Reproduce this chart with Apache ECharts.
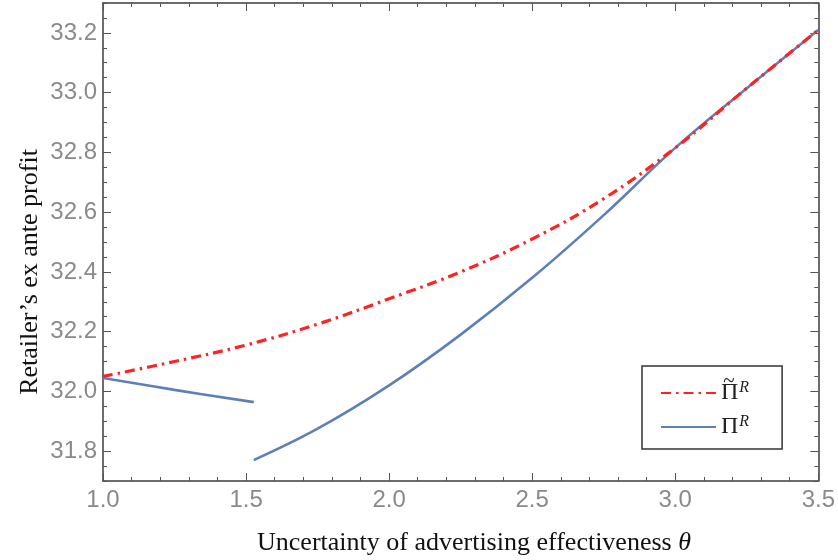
<!DOCTYPE html>
<html>
<head>
<meta charset="utf-8">
<script src="https://cdn.jsdelivr.net/npm/echarts@6/dist/echarts.min.js"></script>
<style>
  html, body { margin: 0; padding: 0; background: #fff; }
  #chart { width: 838px; height: 560px; }
</style>
</head>
<body>
<div id="chart"></div>
<script>
(function () {
  // values
  const thetaTilde = [1.0, 1.25, 1.5, 1.75, 2.0, 2.25, 2.5, 2.75, 3.0, 3.25, 3.5];
  const profitTilde = [32.05, 32.10, 32.155, 32.225, 32.31, 32.40, 32.51, 32.645, 32.815, 33.015, 33.21];

  // Π^R has a jump near θ ≈ 1.53 ('-' breaks the line)
  const thetaPlain = [1.0, 1.25, 1.527, 1.527, 1.527, 1.75, 2.0, 2.25, 2.5, 2.75, 3.0, 3.25, 3.5];
  const profitPlain = [32.045, 32.005, 31.964, "-", 31.77, 31.875, 32.02, 32.19, 32.38, 32.59, 32.815, 33.015, 33.21];

  const xTickLabels = ["1.0", "1.5", "2.0", "2.5", "3.0", "3.5"];
  const yMajorTicks = [31.8, 32.0, 32.2, 32.4, 32.6, 32.8, 33.0, 33.2];

  const names = { tilde: "Π̃^R", plain: "Π^R" };

  const chart = echarts.init(document.getElementById("chart"));

  const frameLine = { color: "#3c3c3c", width: 1.5 };
  const tickColor = "#555";
  const labelStyle = {
    color: "#8a8a8a",
    fontFamily: "Liberation Sans, Arial, sans-serif",
    fontSize: 24,
  };

  function zip(xs, ys) {
    return xs.map((x, i) => [x, ys[i]]);
  }

  function xAxisDef(pos, showLabels) {
    return {
      type: "value",
      position: pos,
      min: 1,
      max: 3.5,
      interval: 0.5,
      axisLine: { show: true, onZero: false, lineStyle: frameLine },
      axisTick: { show: true, inside: true, length: 8, lineStyle: { color: tickColor } },
      minorTick: { show: true, splitNumber: 5, length: 4, lineStyle: { color: tickColor } },
      splitLine: { show: false },
      axisLabel: {
        show: showLabels,
        margin: 7,
        ...labelStyle,
        formatter: (v) => xTickLabels[Math.round((v - 1) * 2)] || "",
      },
    };
  }

  function yMinorAxis(pos, showLabels) {
    return {
      type: "value",
      position: pos,
      min: 31.7,
      max: 33.3,
      interval: 0.05,
      axisLine: { show: true, onZero: false, lineStyle: frameLine },
      axisTick: { show: true, inside: true, length: 4, lineStyle: { color: tickColor } },
      splitLine: { show: false },
      axisLabel: {
        show: showLabels,
        margin: 6,
        ...labelStyle,
        formatter: (v) => (Math.round(v * 20) % 4 === 0 ? v.toFixed(1) : ""),
      },
    };
  }

  function yMajorAxis(pos) {
    return {
      type: "value",
      position: pos,
      min: 31.7,
      max: 33.3,
      axisLine: { show: false },
      axisTick: { show: true, inside: true, length: 8, customValues: yMajorTicks, lineStyle: { color: tickColor } },
      splitLine: { show: false },
      axisLabel: { show: false },
    };
  }

  chart.setOption({
    animation: false,
    backgroundColor: "#fff",
    grid: { left: 103, right: 19, top: 3, bottom: 79 },
    xAxis: [xAxisDef("bottom", true), xAxisDef("top", false)],
    yAxis: [yMinorAxis("left", true), yMajorAxis("left"), yMinorAxis("right", false), yMajorAxis("right")],
    legend: {
      orient: "vertical",
      left: 642,
      top: 366,
      padding: [14, 33, 10, 18],
      itemWidth: 55,
      itemHeight: 14,
      itemGap: 9,
      borderColor: "#333",
      borderWidth: 1.5,
      itemStyle: { opacity: 0 },
      data: [names.tilde, names.plain],
      formatter: () => "{p|Π}{s|R}",
      textStyle: {
        rich: {
          p: { fontFamily: "Liberation Serif, serif", fontSize: 24, lineHeight: 26, color: "#222" },
          s: { fontFamily: "Liberation Serif, serif", fontStyle: "italic", fontSize: 16, color: "#222", verticalAlign: "top", padding: [0, 0, 8, 1] },
        },
      },
    },
    graphic: [
      {
        // tilde accent over the first legend entry's Π
        type: "text",
        x: 729,
        y: 381,
        z: 100,
        style: {
          text: "~",
          fill: "#222",
          font: "21px 'Liberation Serif', serif",
          align: "center",
          verticalAlign: "middle",
        },
      },
      {
        type: "text",
        x: 30,
        y: 272,
        rotation: Math.PI / 2,
        style: {
          text: "Retailer’s ex ante profit",
          fill: "#111",
          font: "26px 'Liberation Serif', serif",
          align: "center",
          verticalAlign: "middle",
        },
      },
      {
        type: "text",
        x: 474,
        y: 543,
        style: {
          text: "Uncertainty of advertising effectiveness {i|θ}",
          fill: "#111",
          font: "26px 'Liberation Serif', serif",
          align: "center",
          verticalAlign: "middle",
          rich: { i: { font: "italic 26px 'Liberation Serif', serif", fill: "#111" } },
        },
      },
    ],
    series: [
      {
        name: names.tilde,
        type: "line",
        xAxisIndex: 0,
        yAxisIndex: 0,
        data: zip(thetaTilde, profitTilde),
        smooth: 0.4,
        symbol: "none",
        z: 4,
        lineStyle: { color: "#ff2222", width: 3.2, type: [10, 5, 2.5, 5] },
        itemStyle: { color: "#ff2222" },
      },
      {
        name: names.plain,
        type: "line",
        xAxisIndex: 0,
        yAxisIndex: 0,
        data: zip(thetaPlain, profitPlain),
        connectNulls: false,
        smooth: 0.4,
        symbol: "none",
        z: 3,
        lineStyle: { color: "#5e81b5", width: 2.6 },
        itemStyle: { color: "#5e81b5" },
      },
    ],
  });
})();
</script>
</body>
</html>
